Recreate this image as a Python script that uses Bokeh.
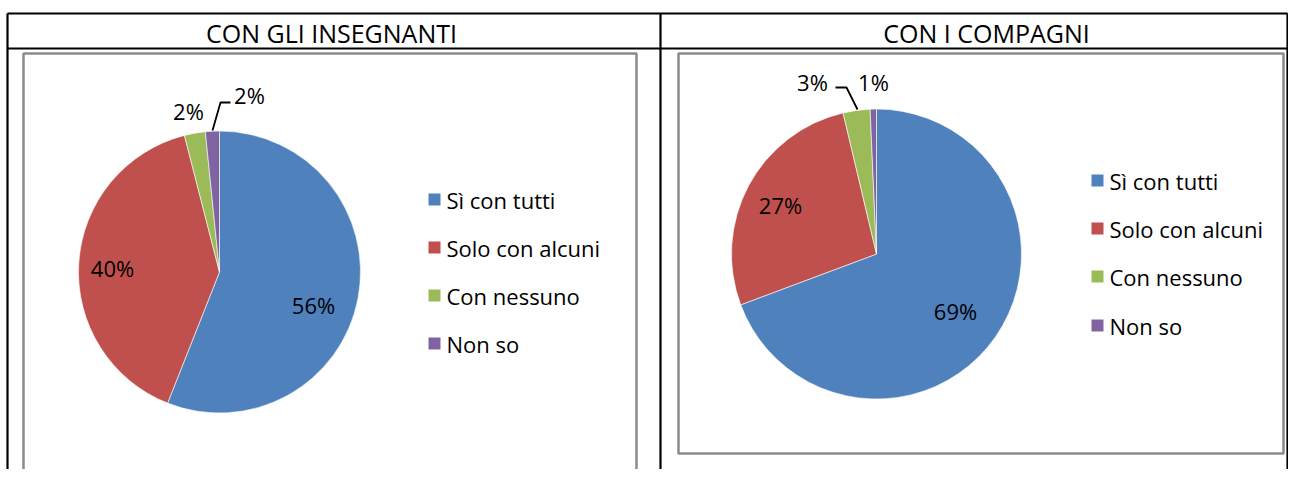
from bokeh.plotting import figure
from bokeh.models import Range1d, ColumnDataSource
from bokeh.core.properties import value
from bokeh.embed import file_html
from bokeh.resources import INLINE
import math

# ---------------- data ----------------
categories = ["Sì con tutti", "Solo con alcuni", "Con nessuno", "Non so"]
insegnanti_values = [56.0, 40.0, 2.4, 1.6]
compagni_values = [69.3, 27.0, 3.0, 0.7]
insegnanti_labels = ["56%", "40%", "2%", "2%"]
compagni_labels = ["69%", "27%", "3%", "1%"]
titles = ["CON GLI INSEGNANTI", "CON I COMPAGNI"]
colors = ["#4F81BD", "#C0504D", "#9BBB59", "#8064A2"]

W, H = 1288, 469
FONT = "Open Sans"


def Y(y):
    # image pixel row -> data y (y up)
    return H - y


p = figure(width=W, height=H, output_backend="svg", toolbar_location=None,
           x_range=Range1d(0, W), y_range=Range1d(0, H),
           min_border=0, background_fill_color="white", border_fill_color="white")
p.axis.visible = False
p.grid.visible = False
p.outline_line_color = None

# ---------------- table ----------------
tbl_left, tbl_mid, tbl_right = 7, 660, 1287
tbl_top, tbl_head = 13, 48
p.segment(x0=[tbl_left, tbl_left], y0=[Y(tbl_top), Y(tbl_head)],
          x1=[tbl_right, tbl_right], y1=[Y(tbl_top), Y(tbl_head)],
          line_color="black", line_width=2.2)
p.segment(x0=[tbl_left, tbl_mid, tbl_right], y0=[Y(tbl_top)] * 3,
          x1=[tbl_left, tbl_mid, tbl_right], y1=[Y(520)] * 3,
          line_color="black", line_width=2.2)

p.text(x=[331, 986], y=[Y(32), Y(32)],
       text=titles, text_font=value(FONT), text_font_size="25px",
       text_align="center", text_baseline="middle", text_color="black")

# ---------------- chart boxes ----------------
boxes = [(23, 53, 636, 520), (678, 53, 1283, 453)]
for (l, t, r, b) in boxes:
    p.quad(left=[l], right=[r], top=[Y(t)], bottom=[Y(b)],
           fill_color=None, line_color="#8A8A8A", line_width=2.5)


def draw_pie(cx, cy, r, vals, labels, label_pos, legend_x, legend_ys):
    total = float(sum(vals))
    cum = 0.0
    starts, ends = [], []
    for v in vals:
        a0 = math.radians(90 - cum / total * 360.0)
        cum += v
        a1 = math.radians(90 - cum / total * 360.0)
        starts.append(a1)
        ends.append(a0)
    src = ColumnDataSource(dict(x=[cx] * len(vals), y=[Y(cy)] * len(vals),
                                start=starts, end=ends, color=colors))
    p.wedge(x="x", y="y", radius=r, start_angle="start", end_angle="end",
            fill_color="color", line_color="white", line_width=0.6,
            direction="anticlock", source=src)
    p.text(x=[q[0] for q in label_pos], y=[Y(q[1]) for q in label_pos],
           text=labels, text_font=value(FONT), text_font_size="22px",
           text_align="center", text_baseline="middle", text_color="black")
    # legend
    ly = [Y(v) for v in legend_ys]
    p.rect(x=[legend_x] * len(categories), y=ly, width=12, height=12,
           fill_color=colors, line_color=None)
    p.text(x=[legend_x + 12] * len(categories), y=ly, text=categories,
           text_font=value(FONT), text_font_size="22px",
           text_align="left", text_baseline="middle", text_color="black")


draw_pie(219, 271.5, 141, insegnanti_values, insegnanti_labels,
         [(313, 304), (112, 267), (188, 110), (249, 94)], 434, [199, 247, 295, 343])
draw_pie(876, 253.5, 145, compagni_values, compagni_labels,
         [(955, 310), (780, 204), (812, 81), (873, 81)], 1097, [180, 228, 276, 325])

# leader lines
p.line(x=[230, 220, 212], y=[Y(102), Y(102), Y(130)], line_color="black", line_width=1.8)
p.line(x=[835, 846, 857], y=[Y(87), Y(87), Y(109)], line_color="black", line_width=1.8)

open("out.html", "w").write(file_html(p, INLINE))
